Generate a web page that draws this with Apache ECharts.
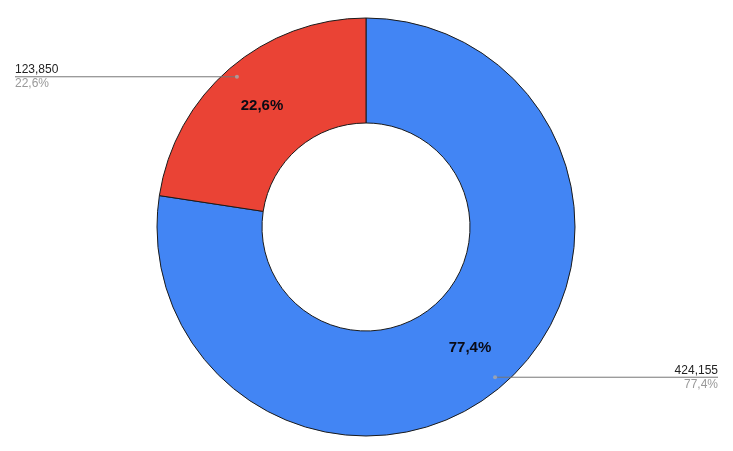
<!DOCTYPE html>
<html><head><meta charset="utf-8">
<script src="https://cdn.jsdelivr.net/npm/echarts@6/dist/echarts.min.js"></script>
<style>html,body{margin:0;padding:0;background:#fff}#c{width:733px;height:451px}</style>
</head><body><div id="c"></div>
<script>
var categories = ['A', 'B'];
var values = [424155, 123850];
var colors = ['#4285f4', '#ea4335'];

var total = values.reduce(function(a,b){return a+b;},0);
function pct(v){ return (v/total*100).toFixed(1).replace('.', ',') + '%'; }
function num(v){ return v.toLocaleString('en-US'); }

var data = categories.map(function(c,i){ return {name:c, value:values[i], itemStyle:{color:colors[i]}}; });
var overlayData = categories.map(function(c,i){ return {name:c, value:values[i]}; });

var cum = 0;
var dots = values.map(function(v){ var mid = cum + v/2; cum += v; return [198, mid]; });

var chart = echarts.init(document.getElementById('c'));
chart.setOption({
  animation:false,
  polar:{center:[366,227], radius:209},
  angleAxis:{type:'value', min:0, max:total, startAngle:90, clockwise:true, show:false},
  radiusAxis:{type:'value', min:0, max:209, show:false},
  series:[
    {
      type:'pie', center:[366,227], radius:[104,209], startAngle:90, clockwise:true,
      silent:true,
      itemStyle:{borderColor:'#1a1a1a', borderWidth:1},
      label:{position:'inside', formatter:function(p){return pct(p.value);},
        color:'#0a0a14', fontWeight:900, fontSize:15, fontFamily:'Liberation Sans'},
      labelLine:{show:false},
      data:data, z:1
    },
    {
      type:'pie', center:[366,227], radius:[0,198], startAngle:90, clockwise:true,
      silent:true,
      itemStyle:{color:'rgba(0,0,0,0)', borderWidth:0},
      label:{position:'outside', alignTo:'edge', edgeDistance:15,
        formatter:function(p){return '{v|'+num(p.value)+'}\n{p|'+pct(p.value)+'}';},
        rich:{
          v:{color:'#222', fontSize:12, fontFamily:'Liberation Sans', lineHeight:14},
          p:{color:'#999', fontSize:12, fontFamily:'Liberation Sans', lineHeight:14}
        }
      },
      labelLine:{show:true, length:0.1, length2:10, lineStyle:{color:'#777', width:1}},
      labelLayout:function(p){
        var pts = p.labelLinePoints; if(!pts) return {};
        var r = p.labelRect;
        var first = pts[0], last = pts[pts.length-1];
        var nx = last[0] < first[0] ? r.x : r.x + r.width;
        var np = pts.map(function(q){return [q[0], q[1]];});
        np[np.length-1] = [nx, last[1]];
        return {labelLinePoints: np};
      },
      data:overlayData, z:3
    },
    {
      type:'scatter', coordinateSystem:'polar', symbolSize:4, silent:true,
      itemStyle:{color:'#aaa'}, data:dots, z:4
    }
  ]
});
</script></body></html>
